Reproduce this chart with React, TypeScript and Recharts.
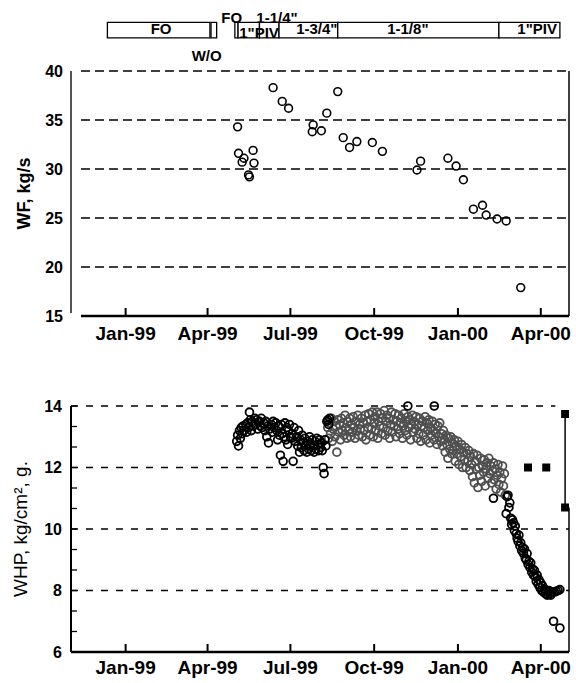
import {
  ScatterChart,
  Scatter,
  XAxis,
  YAxis,
  CartesianGrid,
  ReferenceLine,
  ReferenceArea,
  ReferenceDot,
} from 'recharts';

const FONT = '"Liberation Sans", Arial, sans-serif';

// x values are days counted from 1 Jan 1999
const tickDays = [0, 90, 181, 273, 365, 456];
const tickLabels = ['Jan-99', 'Apr-99', 'Jul-99', 'Oct-99', 'Jan-00', 'Apr-00'];

// completion periods shown above the WF chart
const periodStart = [-20, 93.8, 120, 123.5, 147, 168.5, 233, 410];
const periodEnd = [92.6, 100, 123.5, 147, 168.5, 233, 410, 477];
const headerLabels = ['FO', 'W/O', 'FO', '1"PIV', '1-1/4"', '1-3/4"', '1-1/8"', '1"PIV'];
const headerLabelDays = [39, 89, 116.5, 146.5, 166.3, 210, 310, 452];
const headerLabelLevels = [44.35, 41.6, 45.42, 43.9, 45.42, 44.35, 44.35, 44.35];

const wfTicks = [15, 20, 25, 30, 35, 40];
const wfData: [number, number][] = [
  [123, 34.3], [124, 31.6], [130, 31.1], [128, 30.7], [140, 31.9], [141, 30.6],
  [135, 29.4], [136, 29.2], [162, 38.3], [172, 36.9], [179, 36.2], [206, 34.5],
  [205, 33.8], [215, 33.9], [221, 35.7], [233, 37.9], [239, 33.2], [246, 32.2],
  [254, 32.8], [271, 32.7], [282, 31.8], [320, 29.9], [324, 30.8], [354, 31.1],
  [363, 30.3], [371, 28.9], [382, 25.9], [392, 26.3], [396, 25.3], [408, 24.9],
  [418, 24.7], [434, 17.9],
];

const whpTicks = [6, 6.667, 7.333, 8, 8.667, 9.333, 10, 10.667, 11.333, 12, 12.667, 13.333, 14];
const whpRightTicks = [6.667, 7.333, 8, 8.667, 9.333, 10];

const whpBlack: [number, number][] = [
  [122, 12.85], [123, 13.05], [124, 12.7], [125, 13.2], [126, 12.95], [127, 13.3], [128, 13.1],
  [129, 13.35], [130, 13.2], [132, 13.4], [133, 13.15], [134, 13.45], [135, 13.3], [136, 13.8],
  [137, 13.55], [138, 13.2], [139, 13.5], [140, 13.35], [142, 13.6], [143, 13.4], [144, 13.55],
  [145, 13.25], [147, 13.5], [148, 13.35], [149, 13.6], [150, 13.3], [152, 13.45], [153, 13.2],
  [154, 13.5], [155, 13.0], [156, 13.35], [157, 12.8], [158, 13.25], [160, 13.4], [161, 13.15],
  [162, 13.5], [163, 13.3], [165, 13.45], [166, 13.2], [167, 12.9], [168, 13.35], [169, 13.05],
  [170, 12.4], [171, 13.4], [172, 13.1], [173, 12.2], [174, 13.0], [175, 13.45], [176, 12.9],
  [177, 13.3], [178, 12.75], [179, 13.2], [180, 13.4], [181, 13.0], [182, 12.95], [183, 13.1],
  [184, 12.2], [185, 13.3], [186, 12.85], [188, 13.0], [189, 12.7], [190, 13.2], [191, 12.5],
  [192, 12.9], [193, 12.65], [194, 13.05], [195, 12.8], [196, 12.55], [197, 12.95], [198, 12.7],
  [199, 12.5], [200, 12.85], [201, 12.6], [202, 13.0], [203, 12.75], [204, 12.55], [205, 12.9],
  [206, 12.7], [207, 12.5], [208, 12.85], [209, 12.6], [210, 12.95], [211, 12.75], [212, 12.55],
  [213, 12.9], [214, 12.65], [215, 12.8], [216, 12.55], [217, 12.0], [218, 11.8], [219, 12.9],
  [220, 12.7], [221, 13.5], [222, 13.55], [223, 13.4], [224, 13.6], [310, 14.0], [339, 14.0],
  [404, 11.0],
  [418, 10.5], [419, 11.05], [420, 11.1], [421, 10.7], [422, 10.85], [423, 10.35], [424, 10.15],
  [425, 10.3], [426, 10.2], [427, 9.95], [428, 10.1], [429, 9.85], [430, 9.7], [431, 9.6],
  [432, 9.8], [433, 9.45], [434, 9.55], [435, 9.3], [436, 9.4], [437, 9.2], [438, 9.35],
  [439, 9.05], [440, 9.0], [441, 9.2], [442, 8.85], [443, 8.95], [444, 8.75], [445, 8.9],
  [446, 8.6], [447, 8.7], [448, 8.5], [449, 8.65], [450, 8.45], [451, 8.3], [452, 8.5],
  [453, 8.2], [454, 8.35], [455, 8.1], [456, 8.25], [457, 8.0], [458, 8.15], [459, 7.95],
  [460, 8.05], [461, 7.9], [462, 8.0], [463, 7.85], [464, 7.95], [465, 8.0], [466, 7.9],
  [467, 7.85], [468, 7.95], [470, 7.0], [471, 7.95], [473, 7.97], [475, 8.0], [477, 6.78],
  [477, 8.03],
];

const whpGrey: [number, number][] = [
  [222, 13.3], [223, 12.95], [224, 13.45], [225, 13.1], [226, 13.6], [227, 12.85], [228, 13.25],
  [229, 13.5], [230, 13.0], [231, 13.35], [232, 12.5], [233, 13.55], [234, 13.15], [235, 13.4],
  [236, 12.9], [237, 13.6], [238, 13.2], [239, 13.45], [240, 13.05], [241, 13.7], [242, 13.3],
  [243, 12.95], [244, 13.5], [245, 13.2], [246, 13.6], [247, 13.0], [248, 13.4], [249, 13.15],
  [250, 13.65], [251, 13.3], [252, 12.95], [253, 13.5], [254, 13.2], [255, 13.7], [256, 13.05],
  [257, 13.4], [258, 13.25], [259, 13.6], [260, 13.0], [261, 13.45], [262, 13.2], [263, 13.7],
  [264, 12.9], [265, 13.5], [266, 13.3], [267, 13.75], [268, 13.05], [269, 13.55], [270, 13.25],
  [271, 13.8], [272, 13.0], [273, 13.45], [274, 13.65], [275, 13.2], [276, 13.8], [277, 12.95],
  [278, 13.5], [279, 13.35], [280, 13.75], [281, 13.1], [282, 13.6], [283, 13.3], [284, 13.85],
  [285, 13.05], [286, 13.5], [287, 13.7], [288, 13.2], [289, 13.6], [290, 12.95], [291, 13.4],
  [292, 13.8], [293, 13.15], [294, 13.55], [295, 13.35], [296, 13.75], [297, 13.0], [298, 13.5],
  [299, 13.25], [300, 13.7], [301, 13.1], [302, 13.45], [303, 13.6], [304, 12.95], [305, 13.35],
  [306, 13.75], [307, 13.2], [308, 13.5], [309, 13.05], [310, 13.65], [311, 13.3], [312, 13.55],
  [313, 12.9], [314, 13.4], [315, 13.7], [316, 13.15], [317, 13.5], [318, 13.25], [319, 13.65],
  [320, 12.95], [321, 13.4], [322, 13.1], [323, 13.6], [324, 12.85], [325, 13.35], [326, 13.5],
  [327, 13.05], [328, 13.3], [329, 13.65], [330, 12.9], [331, 13.45], [332, 13.2], [333, 13.55],
  [334, 12.8], [335, 13.3], [336, 13.05], [337, 13.5], [338, 13.2], [339, 12.9], [340, 13.4],
  [341, 13.1], [342, 12.75], [343, 13.35], [344, 13.0], [345, 13.45], [346, 12.85], [347, 13.1],
  [348, 12.7], [349, 13.2], [350, 12.9], [351, 12.5], [352, 13.05], [353, 12.75], [354, 12.3],
  [355, 12.95], [356, 12.6], [357, 13.0], [358, 12.45], [359, 12.8], [360, 12.55], [361, 12.9],
  [362, 12.2], [363, 12.7], [364, 12.45], [365, 12.85], [366, 12.1], [367, 12.6], [368, 12.35],
  [369, 12.75], [370, 12.0], [371, 12.5], [372, 12.25], [373, 12.65], [374, 12.0], [375, 12.45],
  [376, 12.2], [377, 12.55], [378, 11.9], [379, 12.35], [380, 12.1], [381, 11.7], [382, 12.45],
  [383, 11.5], [384, 12.2], [385, 11.95], [386, 12.4], [387, 11.35], [388, 12.0], [389, 11.75],
  [390, 12.3], [391, 11.55], [392, 12.05], [393, 11.85], [394, 12.25], [395, 11.4], [396, 11.95],
  [397, 12.15], [398, 11.65], [399, 12.3], [400, 11.8], [401, 12.05], [402, 11.5], [403, 11.9],
  [404, 12.15], [405, 11.6], [406, 11.95], [407, 11.3], [408, 11.75], [409, 12.1], [410, 11.45],
  [411, 11.85], [412, 11.2], [413, 11.65], [414, 12.05], [415, 11.4], [416, 11.8], [417, 11.1],
];

// filled squares at the right of the WHP chart
const squareDays = [442, 462, 482.7, 482.7];
const squareValues = [12.0, 12.0, 13.74, 10.7];

const toPoints = (rows: [number, number][]) => rows.map(([x, y]) => ({ x, y }));

const ring = (color: string, w = 1.6) => (props: any) => (
  <circle cx={props.cx} cy={props.cy} r={3.9} fill="none" stroke={color} strokeWidth={w} />
);

const tickStyle = { fill: '#000', fontSize: 19, fontWeight: 'bold', fontFamily: FONT };
const yTickStyle = { fill: '#000', fontSize: 16, fontWeight: 'bold', fontFamily: FONT };
const fmtDay = (v: number) => tickLabels[tickDays.indexOf(v)] ?? '';

function WfChart() {
  return (
    <ScatterChart width={576} height={350} margin={{ top: 71, right: 7, bottom: 0, left: 0 }}>
      <CartesianGrid vertical={false} stroke="#000" strokeWidth={1.3} strokeDasharray="9 5" />
      <XAxis
        type="number"
        dataKey="x"
        domain={[-49, 487]}
        allowDataOverflow
        ticks={tickDays}
        interval={0}
        tickFormatter={fmtDay}
        height={34}
        axisLine={{ stroke: '#000', strokeWidth: 2.5 }}
        tickLine={{ stroke: '#000', strokeWidth: 2 }}
        tickSize={-8}
        tickMargin={19}
        tick={tickStyle}
      />
      <YAxis
        type="number"
        dataKey="y"
        domain={[15, 40]}
        ticks={wfTicks}
        interval={0}
        width={81}
        axisLine={false}
        tickLine={false}
        tickSize={0}
        tickMargin={18}
        tick={yTickStyle}
        label={{
          value: 'WF, kg/s',
          angle: -90,
          position: 'center',
          dx: -17,
          fill: '#000',
          fontSize: 18,
          fontWeight: 'bold',
          fontFamily: FONT,
        }}
      />
      <ReferenceLine
        segment={[{ x: -60, y: 15.3 }, { x: -60, y: 40 }]}
        ifOverflow="visible"
        stroke="#555"
        strokeWidth={2}
      />
      <ReferenceLine x={487} stroke="#000" strokeWidth={1.5} />
      {periodStart.map((s, i) => (
        <ReferenceArea
          key={`p-${i}`}
          x1={s}
          x2={periodEnd[i]}
          y1={43.38}
          y2={44.96}
          ifOverflow="visible"
          fill="#fff"
          fillOpacity={1}
          stroke="#000"
          strokeWidth={1.3}
        />
      ))}
      {headerLabels.map((t, i) => (
        <ReferenceDot
          key={`h-${i}`}
          x={headerLabelDays[i]}
          y={headerLabelLevels[i]}
          r={0}
          ifOverflow="visible"
          fill="none"
          stroke="none"
          label={{
            value: t,
            position: 'center',
            fill: '#000',
            fontSize: 15,
            fontWeight: 'bold',
            fontFamily: FONT,
          }}
        />
      ))}
      <Scatter data={toPoints(wfData)} shape={ring('#000')} isAnimationActive={false} />
    </ScatterChart>
  );
}

function WhpChart() {
  return (
    <ScatterChart width={576} height={333} margin={{ top: 56, right: 7, bottom: 0, left: 0 }}>
      <XAxis
        type="number"
        dataKey="x"
        domain={[-60, 487]}
        allowDataOverflow
        ticks={tickDays}
        interval={0}
        tickFormatter={fmtDay}
        height={31}
        axisLine={{ stroke: '#000', strokeWidth: 2.5 }}
        tickLine={{ stroke: '#000', strokeWidth: 2 }}
        tickSize={-8}
        tickMargin={17}
        tick={tickStyle}
      />
      <YAxis
        yAxisId="l"
        type="number"
        dataKey="y"
        domain={[6, 14]}
        ticks={whpTicks}
        interval={0}
        width={71}
        axisLine={{ stroke: '#000', strokeWidth: 2 }}
        tickLine={{ stroke: '#000', strokeWidth: 1.3 }}
        tickSize={-6}
        tickMargin={15}
        tickFormatter={(v: number) => (Math.abs(v - Math.round(v)) < 0.01 ? String(Math.round(v)) : '')}
        tick={yTickStyle}
        label={{
          value: 'WHP, kg/cm², g.',
          angle: -90,
          position: 'center',
          dx: -15,
          fill: '#000',
          fontSize: 19,
          fontFamily: FONT,
        }}
      />
      <YAxis
        yAxisId="r"
        orientation="right"
        type="number"
        domain={[6, 14]}
        ticks={whpRightTicks}
        interval={0}
        width={0}
        axisLine={false}
        tick={false}
        tickLine={{ stroke: '#000', strokeWidth: 1.3 }}
        tickSize={-6}
      />
      <ReferenceLine yAxisId="l" y={8} stroke="#000" strokeWidth={1.3} strokeDasharray="7 8" />
      <ReferenceLine yAxisId="l" y={10} stroke="#000" strokeWidth={1.3} strokeDasharray="7 8" />
      <ReferenceLine
        yAxisId="l"
        segment={[{ x: -60, y: 12 }, { x: 360, y: 12 }]}
        stroke="#000"
        strokeWidth={1.3}
        strokeDasharray="7 8"
      />
      <ReferenceLine
        yAxisId="l"
        segment={[{ x: -60, y: 14 }, { x: 472, y: 14 }]}
        stroke="#000"
        strokeWidth={1.3}
        strokeDasharray="7 8"
      />
      <ReferenceLine
        yAxisId="l"
        segment={[{ x: 487, y: 6 }, { x: 487, y: 10.7 }]}
        stroke="#000"
        strokeWidth={1.5}
      />
      <ReferenceLine
        yAxisId="l"
        segment={[{ x: 482.7, y: 13.74 }, { x: 482.7, y: 10.7 }]}
        stroke="#000"
        strokeWidth={1.5}
      />
      <Scatter yAxisId="l" data={toPoints(whpGrey)} shape={ring('#4f4f4f', 1.8)} isAnimationActive={false} />
      <Scatter yAxisId="l" data={toPoints(whpBlack)} shape={ring('#000', 1.8)} isAnimationActive={false} />
      <Scatter
        yAxisId="l"
        data={squareDays.map((x, i) => ({ x, y: squareValues[i] }))}
        shape="square"
        fill="#000"
        isAnimationActive={false}
      />
    </ScatterChart>
  );
}

export default function App() {
  return (
    <div
      style={{
        position: 'absolute',
        left: 0,
        top: 0,
        width: 576,
        height: 683,
        background: '#fff',
        fontFamily: FONT,
      }}
    >
      <div style={{ position: 'absolute', left: 0, top: 0 }}>
        <WfChart />
      </div>
      <div style={{ position: 'absolute', left: 0, top: 350 }}>
        <WhpChart />
      </div>
    </div>
  );
}
